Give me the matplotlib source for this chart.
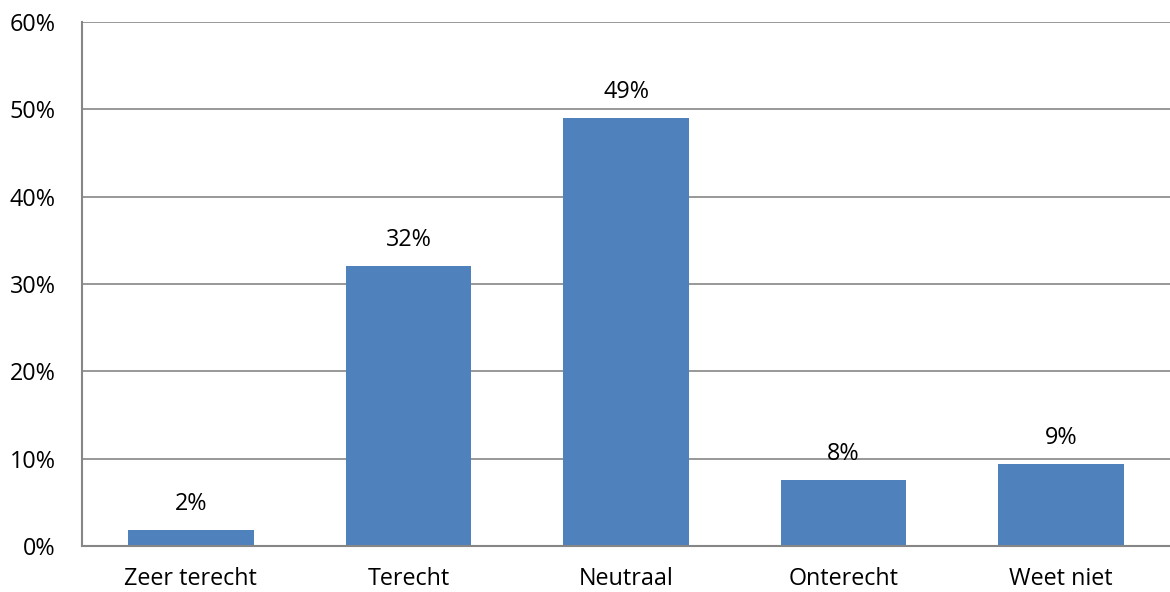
import numpy as np
import matplotlib
matplotlib.use('Agg')
import matplotlib.pyplot as plt
from matplotlib.ticker import FuncFormatter

# ---------------------------------------------------------------------------
# Data
# ---------------------------------------------------------------------------
categories = ['Zeer terecht', 'Terecht', 'Neutraal', 'Onterecht', 'Weet niet']
values = [1.8, 32.1, 49.0, 7.6, 9.4]
labels = ['2%', '32%', '49%', '8%', '9%']
yticks = [0, 10, 20, 30, 40, 50, 60]

BAR_COLOR = '#4F81BD'
GRID_COLOR = '#868686'
FONT_SIZE = 16.8

plt.rcParams['font.family'] = ['Open Sans', 'DejaVu Sans']

fig = plt.figure(figsize=(11.7, 5.92), dpi=100)
ax = fig.add_axes([82 / 1170, 46 / 592, 1 - 82 / 1170, (546 - 22) / 592])

x = np.arange(len(categories))
bars = ax.bar(x, values, width=0.578, color=BAR_COLOR, zorder=3)

for b, lab in zip(bars, labels):
    ax.annotate(lab, (b.get_x() + b.get_width() / 2, b.get_height()),
                xytext=(0, 10), textcoords='offset points',
                ha='center', va='bottom', fontsize=FONT_SIZE, color='black', zorder=4)

ax.set_xlim(-0.5, len(categories) - 0.5)
ax.set_ylim(0, 60)
ax.set_yticks(yticks)
ax.yaxis.set_major_formatter(FuncFormatter(lambda v, p: f'{v:.0f}%'))
ax.set_xticks(x)
ax.set_xticklabels(categories)

ax.grid(axis='y', color=GRID_COLOR, linewidth=1.2, zorder=0)
ax.tick_params(axis='both', length=0, labelsize=FONT_SIZE)
ax.tick_params(axis='y', pad=19)
ax.tick_params(axis='x', pad=15)

for s in ['top', 'right']:
    ax.spines[s].set_visible(False)
for s in ['left', 'bottom']:
    ax.spines[s].set_color(GRID_COLOR)
    ax.spines[s].set_linewidth(1.5)
    ax.spines[s].set_zorder(5)

fig.savefig('out.png', dpi=100)
